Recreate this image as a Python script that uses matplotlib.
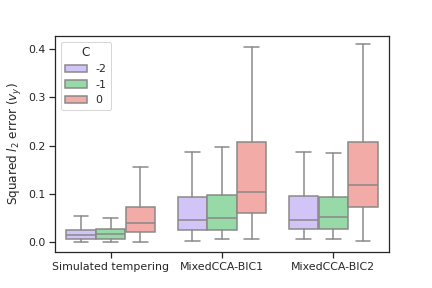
import matplotlib
matplotlib.use("Agg")
import matplotlib.pyplot as plt
import seaborn as sns

# data
methods = ["Simulated tempering", "MixedCCA-BIC1", "MixedCCA-BIC2"]
levels = ["-2", "-1", "0"]

# per method, per C level: [whislo, q1, median, q3, whishi]
sim_tempering = [[0.001, 0.007, 0.014, 0.025, 0.0545],
                 [0.001, 0.007, 0.017, 0.028, 0.050],
                 [0.001, 0.020, 0.039, 0.073, 0.155]]
bic1 = [[0.003, 0.024, 0.046, 0.094, 0.187],
        [0.006, 0.024, 0.050, 0.098, 0.197],
        [0.006, 0.061, 0.104, 0.2075, 0.405]]
bic2 = [[0.006, 0.026, 0.046, 0.096, 0.187],
        [0.006, 0.028, 0.0525, 0.094, 0.185],
        [0.003, 0.072, 0.119, 0.2075, 0.411]]
all_stats = [sim_tempering, bic1, bic2]

sns.set_theme(style="ticks", context="notebook")
pal = sns.color_palette("pastel")
colors = [sns.desaturate(pal[4], 0.75), sns.desaturate(pal[2], 0.75), sns.desaturate(pal[3], 0.75)]
line_gray = "#888888"

fig, ax = plt.subplots(figsize=(6, 4), dpi=72)

box_w = 0.8 / 3
for i, stats in enumerate(all_stats):
    for j, s in enumerate(stats):
        pos = i - 0.4 + box_w * (j + 0.5)
        d = dict(whislo=s[0], q1=s[1], med=s[2], q3=s[3], whishi=s[4])
        ax.bxp([d], positions=[pos], widths=box_w * 0.98, showfliers=False, patch_artist=True,
               boxprops=dict(facecolor=colors[j], edgecolor=line_gray, linewidth=1.5),
               medianprops=dict(color=line_gray, linewidth=1.5),
               whiskerprops=dict(color=line_gray, linewidth=1.5),
               capprops=dict(color=line_gray, linewidth=1.5))

ax.set_xticks(range(len(methods)))
ax.set_xticklabels(methods)
ax.set_xlim(-0.5, 2.5)
ax.set_ylim(-0.0207, 0.427)
ax.set_yticks([0.0, 0.1, 0.2, 0.3, 0.4])
ax.set_ylabel("Squared $l_2$ error ($v_y$)")

handles = [plt.Rectangle((0, 0), 1, 1, facecolor=colors[j], edgecolor=line_gray, linewidth=1.5)
           for j in range(3)]
ax.legend(handles, levels, title="C", loc="upper left")

fig.subplots_adjust(left=55 / 432, right=389 / 432, top=1 - 36 / 288, bottom=1 - 252 / 288)
fig.savefig("out.png", dpi=72)
